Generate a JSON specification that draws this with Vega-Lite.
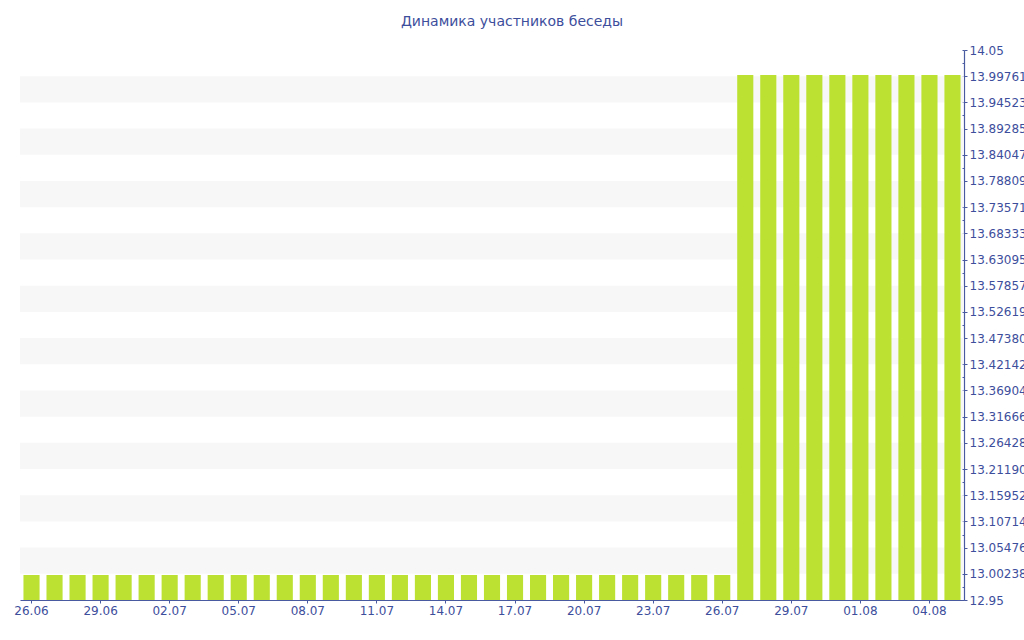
{
  "$schema": "https://vega.github.io/schema/vega-lite/v6.json",
  "autosize": {"type": "none"},
  "padding": {"left": 20, "top": 50, "right": 60, "bottom": 40},
  "width": 944,
  "height": 550,
  "background": "#ffffff",
  "title": {
    "text": "Динамика участников беседы",
    "font": "DejaVu Sans",
    "fontSize": 14,
    "fontWeight": "normal",
    "color": "#3d4e9c",
    "anchor": "middle",
    "frame": "group",
    "dx": 20,
    "offset": 15
  },
  "config": {
    "view": {"stroke": null},
    "axis": {
      "labelFont": "DejaVu Sans",
      "labelFontSize": 12,
      "labelColor": "#3d4e9c",
      "domainColor": "#4a5aa0",
      "tickColor": "#4a5aa0",
      "grid": false,
      "title": null
    }
  },
  "datasets": {
    "members": [
      {"day": "26.06", "count": 13}, {"day": "27.06", "count": 13}, {"day": "28.06", "count": 13},
      {"day": "29.06", "count": 13}, {"day": "30.06", "count": 13}, {"day": "01.07", "count": 13},
      {"day": "02.07", "count": 13}, {"day": "03.07", "count": 13}, {"day": "04.07", "count": 13},
      {"day": "05.07", "count": 13}, {"day": "06.07", "count": 13}, {"day": "07.07", "count": 13},
      {"day": "08.07", "count": 13}, {"day": "09.07", "count": 13}, {"day": "10.07", "count": 13},
      {"day": "11.07", "count": 13}, {"day": "12.07", "count": 13}, {"day": "13.07", "count": 13},
      {"day": "14.07", "count": 13}, {"day": "15.07", "count": 13}, {"day": "16.07", "count": 13},
      {"day": "17.07", "count": 13}, {"day": "18.07", "count": 13}, {"day": "19.07", "count": 13},
      {"day": "20.07", "count": 13}, {"day": "21.07", "count": 13}, {"day": "22.07", "count": 13},
      {"day": "23.07", "count": 13}, {"day": "24.07", "count": 13}, {"day": "25.07", "count": 13},
      {"day": "26.07", "count": 13}, {"day": "27.07", "count": 14}, {"day": "28.07", "count": 14},
      {"day": "29.07", "count": 14}, {"day": "30.07", "count": 14}, {"day": "31.07", "count": 14},
      {"day": "01.08", "count": 14}, {"day": "02.08", "count": 14}, {"day": "03.08", "count": 14},
      {"day": "04.08", "count": 14}, {"day": "05.08", "count": 14}
    ],
    "stripes": [
      {"lo": 13.0023809524, "hi": 13.0547619048},
      {"lo": 13.1071428571, "hi": 13.1595238095},
      {"lo": 13.2119047619, "hi": 13.2642857143},
      {"lo": 13.3166666667, "hi": 13.3690476190},
      {"lo": 13.4214285714, "hi": 13.4738095238},
      {"lo": 13.5261904762, "hi": 13.5785714286},
      {"lo": 13.6309523810, "hi": 13.6833333333},
      {"lo": 13.7357142857, "hi": 13.7880952381},
      {"lo": 13.8404761905, "hi": 13.8928571429},
      {"lo": 13.9452380952, "hi": 13.9976190476}
    ]
  },
  "resolve": {"axis": {"y": "independent"}},
  "layer": [
    {
      "data": {"name": "stripes"},
      "mark": {"type": "rect", "color": "#f7f7f7"},
      "encoding": {
        "y": {
          "field": "lo", "type": "quantitative",
          "scale": {"domain": [12.95, 14.05], "nice": false, "zero": false},
          "axis": {
            "orient": "right",
            "values": [12.95, 13.0023809524, 13.0547619048, 13.1071428571, 13.1595238095, 13.2119047619, 13.2642857143, 13.3166666667, 13.3690476190, 13.4214285714, 13.4738095238, 13.5261904762, 13.5785714286, 13.6309523810, 13.6833333333, 13.7357142857, 13.7880952381, 13.8404761905, 13.8928571429, 13.9452380952, 13.9976190476, 14.05],
            "format": ".7~f",
            "tickSize": 3,
            "labelPadding": 2,
            "domainWidth": 1.2
          }
        },
        "y2": {"field": "hi"}
      }
    },
    {
      "data": {"name": "members"},
      "mark": {"type": "bar", "color": "#bce132"},
      "encoding": {
        "x": {
          "field": "day", "type": "ordinal", "sort": null,
          "scale": {"paddingInner": 0.3, "paddingOuter": 0.15},
          "axis": {
            "values": ["26.06", "29.06", "02.07", "05.07", "08.07", "11.07", "14.07", "17.07", "20.07", "23.07", "26.07", "29.07", "01.08", "04.08"],
            "labelAngle": 0,
            "tickSize": 3,
            "labelPadding": 2,
            "domainWidth": 1.2
          }
        },
        "y": {
          "field": "count", "type": "quantitative",
          "scale": {"domain": [12.95, 14.05], "nice": false, "zero": false, "clamp": true},
          "axis": {
            "orient": "right",
            "values": [12.95, 12.9761904762, 13.0023809524, 13.0285714286, 13.0547619048, 13.0809523810, 13.1071428571, 13.1333333333, 13.1595238095, 13.1857142857, 13.2119047619, 13.2380952381, 13.2642857143, 13.2904761905, 13.3166666667, 13.3428571429, 13.3690476190, 13.3952380952, 13.4214285714, 13.4476190476, 13.4738095238, 13.5, 13.5261904762, 13.5523809524, 13.5785714286, 13.6047619048, 13.6309523810, 13.6571428571, 13.6833333333, 13.7095238095, 13.7357142857, 13.7619047619, 13.7880952381, 13.8142857143, 13.8404761905, 13.8666666667, 13.8928571429, 13.9190476190, 13.9452380952, 13.9714285714, 13.9976190476, 14.0238095238, 14.05],
            "labels": false,
            "domain": false,
            "tickSize": -2
          }
        }
      }
    }
  ]
}
